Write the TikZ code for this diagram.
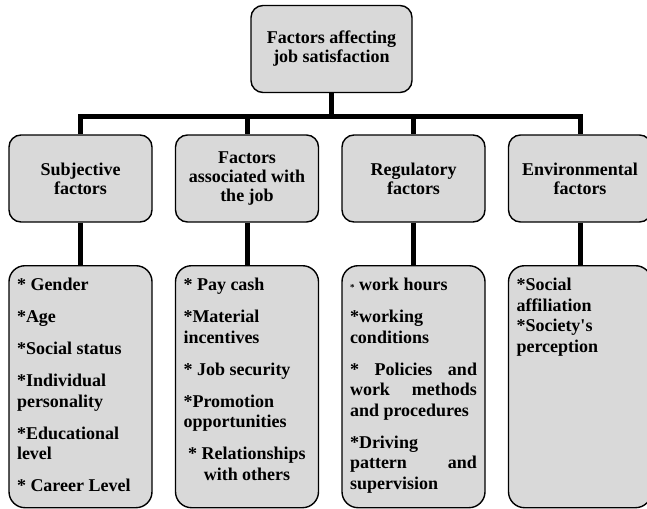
\documentclass[tikz,border=0pt]{standalone}
\usepackage{fontspec}
\setmainfont{Liberation Serif}
\newcommand{\factorlist}[1]{\parbox[c][221pt][t]{127pt}{\fontsize{18}{20.5}\selectfont\setlength{\parskip}{11.5pt}\raggedright\strut#1}}
\begin{document}
\begin{tikzpicture}
    [ x=1pt, y=-1pt
    , every node/.style={font=\bfseries\fontsize{18}{19}\selectfont}
    , box/.style={draw,line width=1.4pt,fill=black!15,rounded corners=12pt,minimum width=143pt,minimum height=87pt,align=center,inner sep=2pt}
    , list/.style={draw,line width=1.4pt,fill=black!15,rounded corners=16pt,anchor=north,inner xsep=8pt,inner ysep=10.5pt}
    , link/.style={line width=5pt}
    ]
    \useasboundingbox (0,0) rectangle (647,508);
    \node [box, minimum width=161pt] (top) at (331.5,49) {Factors affecting\\job satisfaction};
    \node [box] (subj) at (80.5,178.5)  {Subjective\\factors};
    \node [box] (job)  at (247,178.5)   {Factors\\associated with\\the job};
    \node [box] (reg)  at (413.5,178.5) {Regulatory\\factors};
    \node [box] (env)  at (580,178.5)   {Environmental\\factors};
    \node [list] (subjlist) at (80.5,265) {\factorlist{%
      * Gender\par
      *Age\par
      *Social status\par
      *Individual\\personality\par
      *Educational\\level\par
      * Career Level}};
    \node [list] (joblist) at (247,265) {\factorlist{%
      * Pay cash\par
      *Material\\incentives\par
      * Job security\par
      *Promotion\\opportunities\par
      {\centering * Relationships\\with others\par}}};
    \node [list] (reglist) at (413.5,265) {\factorlist{%
      {\fontsize{9}{9}\selectfont*} work hours\par
      *working\\conditions\par
      \makebox[\linewidth][s]{* Policies and}\\
      \makebox[\linewidth][s]{work methods}\\
      and procedures\par
      *Driving\\
      \makebox[\linewidth][s]{pattern and}\\
      supervision}};
    \node [list] (envlist) at (580,265) {\factorlist{%
      *Social\\affiliation\\{}*Society\textquotesingle s\\perception}};
    \foreach \n in {subj,job,reg,env}
      \draw [link] (top.south) -- ++(0,23) -| (\n.north);
    \draw [link] (subj.south) -- (subjlist.north);
    \draw [link] (job.south) -- (joblist.north);
    \draw [link] (reg.south) -- (reglist.north);
    \draw [link] (env.south) -- (envlist.north);
  \end{tikzpicture}
\end{document}
